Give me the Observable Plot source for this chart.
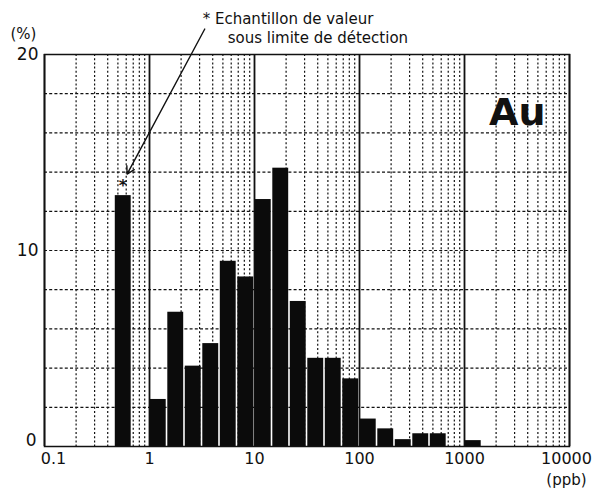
<!DOCTYPE html>
<html>
<head>
<meta charset="utf-8">
<script src="https://cdn.jsdelivr.net/npm/d3@7"></script>
<script src="https://cdn.jsdelivr.net/npm/@observablehq/plot@0.6"></script>
<style>
  html, body { margin: 0; padding: 0; background: #fff; }
  #chart svg { display: block; }
</style>
</head>
<body>
<div id="chart"></div>
<script>
// Bin lower and upper edges (ppb) and frequency (%)
const binLo = [0.464, 1, 1.468, 2.154, 3.162, 4.642, 6.81, 10, 14.68, 21.54, 31.62, 46.42, 68.1, 100, 146.8, 215.4, 316.2, 464.2, 1000];
const binHi = [0.681, 1.468, 2.154, 3.162, 4.642, 6.81, 10, 14.68, 21.54, 31.62, 46.42, 68.1, 100, 146.8, 215.4, 316.2, 464.2, 681, 1468];
const pct   = [12.8, 2.4, 6.85, 4.1, 5.25, 9.45, 8.65, 12.6, 14.2, 7.4, 4.5, 4.5, 3.45, 1.4, 0.9, 0.35, 0.65, 0.65, 0.3];

const xTicks = [0.1, 1, 10, 100, 1000, 10000];
const xTickLabels = ["0.1", "1", "10", "100", "1000", "10000"];
const yTicks = [0, 10, 20];
const yGrid = [2, 4, 6, 8, 10, 12, 14, 16, 18];

const element = "Au";
const noteLines = ["* Echantillon de valeur", "sous limite de détection"];

const bars = binLo.map((lo, i) => ({lo, hi: binHi[i], v: pct[i]}));

// minor log gridlines (2..9 in each decade)
const minor = [];
for (let d = 0; d < 5; d++) for (let m = 2; m <= 9; m++) minor.push(m * xTicks[d]);

const font = "DejaVu Sans, Verdana, sans-serif";
const fmtX = (d) => xTickLabels[xTicks.indexOf(d)];

const chart = Plot.plot({
  width: 594,
  height: 494,
  marginLeft: 44,
  marginRight: 25,
  marginTop: 54,
  marginBottom: 48,
  style: {fontFamily: font, fontSize: "16px", background: "#fff", color: "#111", overflow: "visible"},
  x: {type: "log", domain: [0.1, 10000], ticks: xTicks, tickFormat: fmtX, tickSize: 0, tickPadding: 6, label: null, axis: null},
  y: {domain: [0, 20], ticks: yTicks, tickSize: 0, tickPadding: 7, label: null, axis: null},
  marks: [
    Plot.ruleX(minor, {stroke: "#111", strokeWidth: 1.2, strokeDasharray: "2,2.2"}),
    Plot.ruleY(yGrid, {stroke: "#111", strokeWidth: 1.2, strokeDasharray: "3,2.2"}),
    Plot.ruleX(xTicks, {stroke: "#111", strokeWidth: 1.8}),
    Plot.rectY(bars, {x1: "lo", x2: "hi", y: "v", fill: "#0b0b0b", insetLeft: 0.8, insetRight: 0.8}),
    Plot.frame({stroke: "#111", strokeWidth: 1.5}),
    Plot.axisX(xTicks.slice(1, 5), {tickFormat: fmtX, tickSize: 0, tickPadding: 6, fontSize: 16}),
    Plot.axisX(xTicks.slice(5), {tickFormat: fmtX, tickSize: 0, tickPadding: 6, fontSize: 16, dx: -3}),
    Plot.axisX(xTicks.slice(0, 1), {tickFormat: fmtX, tickSize: 0, tickPadding: 6, fontSize: 16, dx: 9}),
    Plot.axisY(yTicks.slice(1), {tickSize: 0, tickPadding: 6, fontSize: 17}),
    Plot.axisY(yTicks.slice(0, 1), {tickSize: 0, tickPadding: 8, fontSize: 17, dy: -6}),
    // axis unit labels
    Plot.text(["(%)"], {x: 0.1, y: 20, dx: -21, dy: -20, fontSize: 15, textAnchor: "middle"}),
    Plot.text(["(ppb)"], {x: 10000, y: 0, dx: -3, dy: 34, fontSize: 15, textAnchor: "middle"}),
    // element symbol
    Plot.text([element], {x: 10000, y: 17, dx: -24, fontSize: 38, fontWeight: "bold", textAnchor: "end"}),
    // asterisk above censored bar
    Plot.text(["*"], {x: 0.56, y: 13.3, fontSize: 16, fontWeight: "bold"}),
    // annotation
    Plot.arrow([{x1: 3.36, y1: 21.3, x2: 0.612, y2: 13.9}], {x1: "x1", y1: "y1", x2: "x2", y2: "y2", stroke: "#111", strokeWidth: 1.4, headLength: 9, clip: false}),
    Plot.text([noteLines[0]], {x: 3.21, y: 21.55, fontSize: 15, textAnchor: "start", lineAnchor: "bottom"}),
    Plot.text([noteLines[1]], {x: 5.55, y: 20.6, fontSize: 15, textAnchor: "start", lineAnchor: "bottom"})
  ]
});
document.getElementById("chart").appendChild(chart);
</script>
</body>
</html>
